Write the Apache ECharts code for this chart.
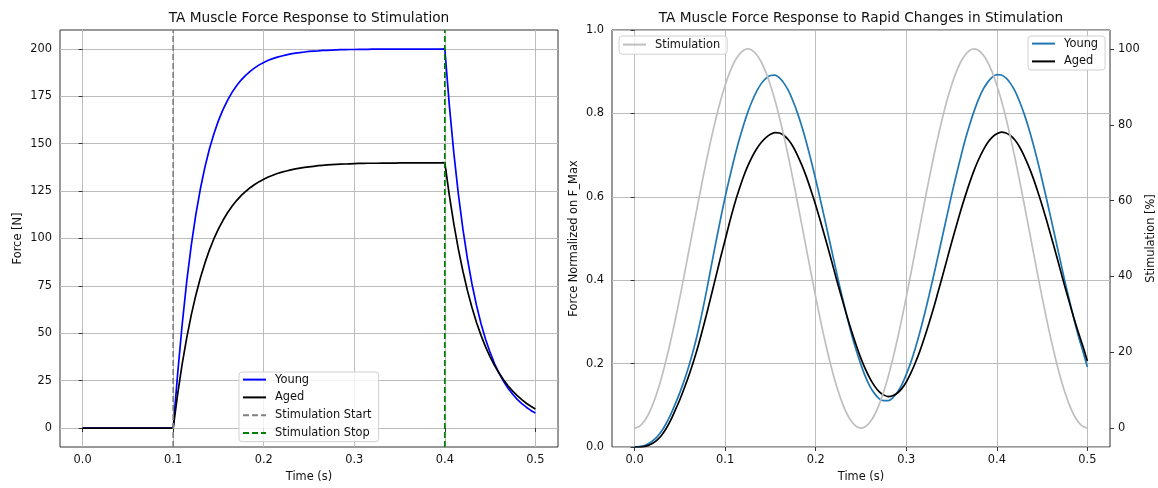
<!DOCTYPE html>
<html>
<head>
<meta charset="utf-8">
<script src="https://cdn.jsdelivr.net/npm/echarts@6/dist/echarts.min.js"></script>
<style>
  html, body { margin: 0; padding: 0; background: #ffffff; }
  #chart { width: 1158px; height: 488px; }
</style>
</head>
<body>
<div id="chart"></div>
<script>
// Sample times (s), shared by every curve
const time = [
  0.000, 0.005, 0.010, 0.015, 0.020, 0.025, 0.030, 0.035, 0.040, 0.045,
  0.050, 0.055, 0.060, 0.065, 0.070, 0.075, 0.080, 0.085, 0.090, 0.095,
  0.100, 0.105, 0.110, 0.115, 0.120, 0.125, 0.130, 0.135, 0.140, 0.145,
  0.150, 0.155, 0.160, 0.165, 0.170, 0.175, 0.180, 0.185, 0.190, 0.195,
  0.200, 0.205, 0.210, 0.215, 0.220, 0.225, 0.230, 0.235, 0.240, 0.245,
  0.250, 0.255, 0.260, 0.265, 0.270, 0.275, 0.280, 0.285, 0.290, 0.295,
  0.300, 0.305, 0.310, 0.315, 0.320, 0.325, 0.330, 0.335, 0.340, 0.345,
  0.350, 0.355, 0.360, 0.365, 0.370, 0.375, 0.380, 0.385, 0.390, 0.395,
  0.400, 0.405, 0.410, 0.415, 0.420, 0.425, 0.430, 0.435, 0.440, 0.445,
  0.450, 0.455, 0.460, 0.465, 0.470, 0.475, 0.480, 0.485, 0.490, 0.495,
  0.500
];

// Step stimulation: force in newtons
const youngForce = [
  0, 0, 0, 0, 0, 0, 0, 0, 0, 0,
  0, 0, 0, 0, 0, 0, 0, 0, 0, 0,
  0, 29.0, 55.0, 77.5, 96.5, 112.6, 126.1, 137.5, 147.2, 155.3,
  162.2, 168.0, 172.9, 177.1, 180.6, 183.6, 186.1, 188.2, 190.0, 191.6,
  192.9, 194.0, 194.9, 195.7, 196.3, 196.9, 197.4, 197.8, 198.1, 198.4,
  198.7, 198.9, 199.0, 199.2, 199.3, 199.4, 199.5, 199.6, 199.6, 199.7,
  199.7, 199.8, 199.8, 199.8, 199.9, 199.9, 199.9, 199.9, 199.9, 199.9,
  199.9, 199.9, 199.9, 199.9, 199.9, 199.9, 199.9, 199.9, 199.9, 199.9,
  200.0, 170.2, 144.9, 123.3, 104.9, 89.3, 76.0, 64.7, 55.0, 46.8,
  39.9, 33.9, 28.9, 24.6, 20.9, 17.8, 15.1, 12.9, 11.0, 9.3,
  7.9
];
const agedForce = [
  0, 0, 0, 0, 0, 0, 0, 0, 0, 0,
  0, 0, 0, 0, 0, 0, 0, 0, 0, 0,
  0, 18.2, 34.0, 47.7, 59.7, 70.1, 79.2, 87.0, 93.9, 99.9,
  105.1, 109.6, 113.6, 117.0, 120.0, 122.6, 124.8, 126.8, 128.5, 130.0,
  131.3, 132.4, 133.4, 134.3, 135.0, 135.6, 136.2, 136.7, 137.1, 137.5,
  137.8, 138.1, 138.4, 138.6, 138.8, 139.0, 139.1, 139.2, 139.3, 139.4,
  139.5, 139.6, 139.6, 139.7, 139.7, 139.7, 139.8, 139.8, 139.8, 139.8,
  139.9, 139.9, 139.9, 139.9, 139.9, 139.9, 139.9, 139.9, 139.9, 139.9,
  140.0, 122.7, 107.6, 94.3, 82.7, 72.5, 63.6, 55.7, 48.9, 42.8,
  37.6, 32.9, 28.9, 25.3, 22.2, 19.5, 17.1, 15.0, 13.1, 11.5,
  10.1
];
const stimStart = 0.1;
const stimStop = 0.4;

// Oscillating stimulation (%) and normalized force responses
const stimulation = [
  0, 0.39, 1.57, 3.51, 6.18, 9.55, 13.55, 18.13, 23.21, 28.71,
  34.55, 40.63, 46.86, 53.14, 59.37, 65.45, 71.29, 76.79, 81.87, 86.45,
  90.45, 93.82, 96.49, 98.43, 99.61, 100, 99.61, 98.43, 96.49, 93.82,
  90.45, 86.45, 81.87, 76.79, 71.29, 65.45, 59.37, 53.14, 46.86, 40.63,
  34.55, 28.71, 23.21, 18.13, 13.55, 9.55, 6.18, 3.51, 1.57, 0.39,
  0, 0.39, 1.57, 3.51, 6.18, 9.55, 13.55, 18.13, 23.21, 28.71,
  34.55, 40.63, 46.86, 53.14, 59.37, 65.45, 71.29, 76.79, 81.87, 86.45,
  90.45, 93.82, 96.49, 98.43, 99.61, 100, 99.61, 98.43, 96.49, 93.82,
  90.45, 86.45, 81.87, 76.79, 71.29, 65.45, 59.37, 53.14, 46.86, 40.63,
  34.55, 28.71, 23.21, 18.13, 13.55, 9.55, 6.18, 3.51, 1.57, 0.39,
  0
];
const youngNorm = [
  0.000, 0.001, 0.003, 0.008, 0.015, 0.025, 0.039, 0.057, 0.079, 0.104,
  0.131, 0.161, 0.195, 0.233, 0.277, 0.327, 0.381, 0.438, 0.494, 0.548,
  0.600, 0.647, 0.692, 0.733, 0.770, 0.803, 0.831, 0.854, 0.872, 0.884,
  0.891, 0.892, 0.885, 0.872, 0.854, 0.829, 0.800, 0.766, 0.728, 0.686,
  0.641, 0.594, 0.546, 0.497, 0.448, 0.399, 0.353, 0.309, 0.267, 0.230,
  0.197, 0.168, 0.145, 0.128, 0.116, 0.111, 0.111, 0.118, 0.131, 0.149,
  0.174, 0.203, 0.237, 0.275, 0.317, 0.362, 0.409, 0.457, 0.506, 0.555,
  0.604, 0.650, 0.694, 0.736, 0.773, 0.806, 0.835, 0.858, 0.875, 0.887,
  0.893, 0.892, 0.885, 0.872, 0.854, 0.829, 0.800, 0.766, 0.728, 0.686,
  0.641, 0.594, 0.546, 0.497, 0.448, 0.399, 0.353, 0.309, 0.267, 0.230,
  0.192
];
const agedNorm = [
  0.000, 0.000, 0.001, 0.004, 0.009, 0.017, 0.029, 0.045, 0.065, 0.089,
  0.114, 0.142, 0.172, 0.205, 0.241, 0.281, 0.323, 0.367, 0.411, 0.455,
  0.497, 0.540, 0.580, 0.615, 0.647, 0.674, 0.697, 0.716, 0.731, 0.742,
  0.750, 0.754, 0.753, 0.747, 0.736, 0.720, 0.699, 0.674, 0.646, 0.614,
  0.580, 0.543, 0.505, 0.466, 0.426, 0.386, 0.348, 0.310, 0.275, 0.242,
  0.212, 0.186, 0.164, 0.146, 0.133, 0.125, 0.121, 0.123, 0.129, 0.140,
  0.156, 0.177, 0.202, 0.230, 0.262, 0.296, 0.332, 0.371, 0.410, 0.450,
  0.490, 0.528, 0.566, 0.601, 0.634, 0.664, 0.690, 0.712, 0.730, 0.743,
  0.751, 0.755, 0.753, 0.747, 0.736, 0.720, 0.699, 0.674, 0.646, 0.614,
  0.580, 0.543, 0.505, 0.466, 0.426, 0.386, 0.348, 0.310, 0.275, 0.242,
  0.206
];

// Tick positions
const timeTicks = [0, 0.1, 0.2, 0.3, 0.4, 0.5];
const forceTicks = [0, 25, 50, 75, 100, 125, 150, 175, 200];
const stimTicks = [0, 20, 40, 60, 80, 100];

const FONT = 'DejaVu Sans';
const TXT = '#111111';
const SPINE = '#333333';
const GRIDC = '#bcbcbc';
const LW = 1.7;
const DASH = [6, 3];

const pairs = (ys) => time.map((t, i) => [t, ys[i]]);

const legendNames = {
  'Young (normalized)': 'Young',
  'Aged (normalized)': 'Aged'
};

function timeAxis(gridIndex) {
  return {
    type: 'value', gridIndex, min: -0.025, max: 0.525,
    name: 'Time (s)', nameLocation: 'middle', nameGap: 25,
    nameTextStyle: { fontFamily: FONT, fontSize: 11.4, color: TXT },
    axisLine: { show: false },
    axisTick: { show: true, length: 4, customValues: timeTicks, lineStyle: { color: SPINE, width: 1 } },
    axisLabel: { customValues: timeTicks, margin: 8, fontFamily: FONT, fontSize: 11.4, color: TXT,
                 formatter: v => v.toFixed(1) },
    splitLine: { show: true, lineStyle: { color: GRIDC, width: 1 } }
  };
}

// Legend handles are plain line strokes (the marker dot is hidden)
const legendBase = {
  orient: 'vertical', itemWidth: 23, itemHeight: 14, itemGap: 6.6,
  selectedMode: false,
  itemStyle: { opacity: 0 },
  backgroundColor: 'rgba(255,255,255,0.8)', borderColor: '#d0d0d0', borderWidth: 1, borderRadius: 3,
  textStyle: { fontFamily: FONT, fontSize: 11.4, color: TXT, padding: [0, 0, 0, 4] }
};

const option = {
  animation: false,
  backgroundColor: '#ffffff',
  title: [
    { text: 'TA Muscle Force Response to Stimulation', left: 309, top: 11, textAlign: 'center', padding: 0,
      textStyle: { fontFamily: FONT, fontSize: 13.7, fontWeight: 'normal', color: TXT } },
    { text: 'TA Muscle Force Response to Rapid Changes in Stimulation', left: 861, top: 11, textAlign: 'center', padding: 0,
      textStyle: { fontFamily: FONT, fontSize: 13.7, fontWeight: 'normal', color: TXT } }
  ],
  grid: [
    { left: 60, top: 30, width: 498, height: 422, show: true, borderColor: SPINE, borderWidth: 1, backgroundColor: 'transparent' },
    { left: 612, top: 30, width: 498, height: 422, show: true, borderColor: SPINE, borderWidth: 1, backgroundColor: 'transparent' }
  ],
  xAxis: [timeAxis(0), timeAxis(1)],
  yAxis: [
    {
      type: 'value', gridIndex: 0, min: -10, max: 210,
      name: 'Force [N]', nameLocation: 'middle', nameGap: 36,
      nameTextStyle: { fontFamily: FONT, fontSize: 11.4, color: TXT },
      axisLine: { show: false },
      axisTick: { show: true, length: 4, customValues: forceTicks, lineStyle: { color: SPINE, width: 1 } },
      axisLabel: { customValues: forceTicks, margin: 8, fontFamily: FONT, fontSize: 11.4, color: TXT },
      splitLine: { show: true, lineStyle: { color: GRIDC, width: 1 } }
    },
    {
      type: 'value', gridIndex: 1, min: 0, max: 1, interval: 0.2,
      name: 'Force Normalized on F_Max', nameLocation: 'middle', nameGap: 32,
      nameTextStyle: { fontFamily: FONT, fontSize: 11.4, color: TXT },
      axisLine: { show: false },
      axisTick: { show: true, length: 4, lineStyle: { color: SPINE, width: 1 } },
      axisLabel: { margin: 8, fontFamily: FONT, fontSize: 11.4, color: TXT, formatter: v => v.toFixed(1) },
      splitLine: { show: true, lineStyle: { color: GRIDC, width: 1 } }
    },
    {
      type: 'value', gridIndex: 1, position: 'right', min: -5, max: 105,
      name: 'Stimulation [%]', nameLocation: 'middle', nameGap: 36,
      nameTextStyle: { fontFamily: FONT, fontSize: 11.4, color: TXT },
      axisLine: { show: false },
      axisTick: { show: true, length: 4, customValues: stimTicks, lineStyle: { color: SPINE, width: 1 } },
      axisLabel: { customValues: stimTicks, margin: 8, fontFamily: FONT, fontSize: 11.4, color: TXT },
      splitLine: { show: false }
    }
  ],
  legend: [
    Object.assign({}, legendBase, {
      left: 239, top: 372, padding: [2, 7, 3, 3],
      data: ['Young', 'Aged', 'Stimulation Start', 'Stimulation Stop']
    }),
    Object.assign({}, legendBase, {
      left: 619, top: 36, padding: [3, 7, 4, 3],
      data: ['Stimulation']
    }),
    Object.assign({}, legendBase, {
      left: 1028, top: 36, padding: [2, 7, 3, 3],
      data: ['Young (normalized)', 'Aged (normalized)'],
      formatter: name => legendNames[name] || name
    })
  ],
  series: [
    { name: 'Young', type: 'line', xAxisIndex: 0, yAxisIndex: 0, data: pairs(youngForce),
      symbol: 'none', color: '#0000ff', lineStyle: { color: '#0000ff', width: LW } },
    { name: 'Aged', type: 'line', xAxisIndex: 0, yAxisIndex: 0, data: pairs(agedForce),
      symbol: 'none', color: '#000000', lineStyle: { color: '#000000', width: LW } },
    { name: 'Stimulation Start', type: 'line', xAxisIndex: 0, yAxisIndex: 0,
      data: [[stimStart, -10], [stimStart, 210]],
      symbol: 'none', color: '#808080', lineStyle: { color: '#808080', width: LW, type: DASH } },
    { name: 'Stimulation Stop', type: 'line', xAxisIndex: 0, yAxisIndex: 0,
      data: [[stimStop, -10], [stimStop, 210]],
      symbol: 'none', color: '#008000', lineStyle: { color: '#008000', width: LW, type: DASH } },

    { name: 'Young (normalized)', type: 'line', xAxisIndex: 1, yAxisIndex: 1, data: pairs(youngNorm),
      symbol: 'none', smooth: 0.3, color: '#1f77b4', lineStyle: { color: '#1f77b4', width: LW } },
    { name: 'Aged (normalized)', type: 'line', xAxisIndex: 1, yAxisIndex: 1, data: pairs(agedNorm),
      symbol: 'none', smooth: 0.3, color: '#000000', lineStyle: { color: '#000000', width: LW } },
    { name: 'Stimulation', type: 'line', xAxisIndex: 1, yAxisIndex: 2, data: pairs(stimulation),
      symbol: 'none', smooth: 0.3, color: '#bfbfbf', lineStyle: { color: '#bfbfbf', width: LW } }
  ]
};

const chart = echarts.init(document.getElementById('chart'), null, { renderer: 'canvas' });
chart.setOption(option);
</script>
</body>
</html>
